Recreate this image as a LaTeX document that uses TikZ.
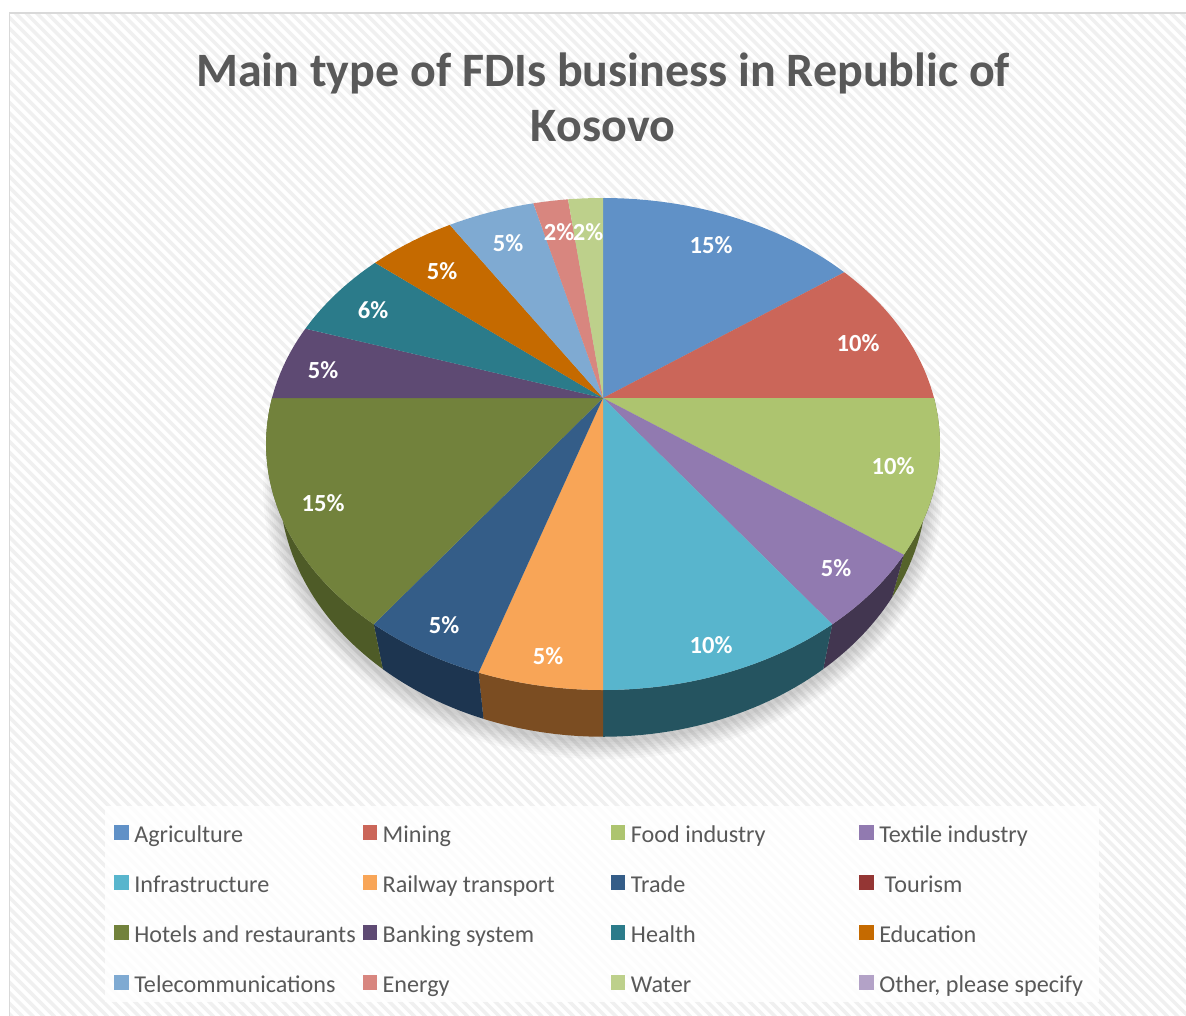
\documentclass[tikz,border=0pt]{standalone}
\usepackage{fontspec}
\setmainfont{Carlito}
\definecolor{framegray}{HTML}{D9D9D9}
\definecolor{stripegray}{HTML}{F0F0F0}
\definecolor{titlegray}{HTML}{595959}
\definecolor{labelgray}{HTML}{595959}
\definecolor{cAgri}{HTML}{6091C7}
\definecolor{cMine}{HTML}{CB6659}
\definecolor{cFood}{HTML}{ADC46F}
\definecolor{cText}{HTML}{917AB0}
\definecolor{cInfr}{HTML}{58B5CD}
\definecolor{cRail}{HTML}{F8A557}
\definecolor{cTrad}{HTML}{345D88}
\definecolor{cTour}{HTML}{943634}
\definecolor{cHote}{HTML}{72823C}
\definecolor{cBank}{HTML}{5E4A73}
\definecolor{cHeal}{HTML}{2B7B8A}
\definecolor{cEduc}{HTML}{C56A00}
\definecolor{cTele}{HTML}{7FAAD2}
\definecolor{cEner}{HTML}{D8867F}
\definecolor{cWate}{HTML}{BDD08B}
\definecolor{cOthe}{HTML}{B3A2C7}
\definecolor{sFood}{HTML}{55632A}
\definecolor{sText}{HTML}{423650}
\definecolor{sInfr}{HTML}{255460}
\definecolor{sRail}{HTML}{7B4D22}
\definecolor{sTrad}{HTML}{1D3550}
\definecolor{sHote}{HTML}{4E5B27}
\tikzset{
  stripe/.style={draw=stripegray, line width=0.07cm},
  title/.style={anchor=base, text=titlegray, inner sep=0pt, font=\bfseries\fontsize{27.3}{32}\selectfont},
  pct/.style={text=white, inner sep=0pt, font=\bfseries\fontsize{14}{16}\selectfont},
  legmark/.style={minimum width=0.29cm, minimum height=0.29cm, inner sep=0pt, anchor=west},
  legtext/.style={anchor=base west, inner sep=0pt, text=labelgray, font=\fontsize{13.75}{16}\selectfont},
  declare function={
    dd(\t)=1+0.187*cos(\t);
    px(\t)=603+331*sin(\t)/dd(\t);
    py(\t)=398-237.4*cos(\t)/dd(\t);
    bx(\t)=603+318*sin(\t)/dd(\t);
    by(\t)=398+(38-237.4*cos(\t))/dd(\t);
  }
}
\newcommand{\pieslice}[3]{\fill[#3] (apex) -- plot[variable=\t, domain=#1:#2, samples=40] ({px(\t)},{py(\t)}) -- cycle;}
\newcommand{\pieside}[3]{\fill[#3] plot[variable=\t, domain=#1:#2, samples=40] ({px(\t)},{py(\t)}) -- plot[variable=\t, domain=#2:#1, samples=40] ({bx(\t)},{by(\t)}) -- cycle;}
\begin{document}
\begin{tikzpicture}[x=0.02cm,y=-0.02cm]
\useasboundingbox (0,0) rectangle (1186,1015);
\fill[white] (0,0) rectangle (1186,1015);
\begin{scope}
  \clip (10,13) rectangle (1186,1015);
  \foreach \k in {0,...,220} \draw[stripe] ({\k*10.6-1100},0) -- ++(1100,1100);
\end{scope}
\draw[framegray, line width=0.04cm] (9.5,12.5) rectangle (1200,1030);

\node[title] (ttlA) at (603,86) {Main type of FDIs business in Republic of};
\node[title] (ttlB) at (603,141) {Kosovo};

\foreach \e in {2,4,...,16}
  \fill[black, opacity=0.025] plot[variable=\t, domain=0:360, samples=90] ({603+(318+\e)*sin(\t)/dd(\t)},{401+(38-(237.4+\e)*cos(\t))/dd(\t)}) -- cycle;

\coordinate (apex) at (603,398);
\pieside{90}{126}{sFood}
\pieside{126}{144}{sText}
\pieside{144}{180}{sInfr}
\pieside{180}{198}{sRail}
\pieside{198}{216}{sTrad}
\pieside{216}{270}{sHote}

\pieslice{0}{54}{cAgri}
\pieslice{54}{90}{cMine}
\pieslice{90}{126}{cFood}
\pieslice{126}{144}{cText}
\pieslice{144}{180}{cInfr}
\pieslice{180}{198}{cRail}
\pieslice{198}{216}{cTrad}
\pieslice{216}{270}{cHote}
\pieslice{270}{288}{cBank}
\pieslice{288}{309.6}{cHeal}
\pieslice{309.6}{327.6}{cEduc}
\pieslice{327.6}{345.6}{cTele}
\pieslice{345.6}{352.8}{cEner}
\pieslice{352.8}{360}{cWate}

\node[pct] (pAgri) at (711,245) {15\%};
\node[pct] (pMine) at (858,343) {10\%};
\node[pct] (pFood) at (893,466) {10\%};
\node[pct] (pText) at (836,568) {5\%};
\node[pct] (pInfr) at (711,645) {10\%};
\node[pct] (pRail) at (548,656) {5\%};
\node[pct] (pTrad) at (444,625) {5\%};
\node[pct] (pHote) at (323,503) {15\%};
\node[pct] (pBank) at (323,370) {5\%};
\node[pct] (pHeal) at (373,310) {6\%};
\node[pct] (pEduc) at (442,271) {5\%};
\node[pct] (pTele) at (508,243) {5\%};
\node[pct] (pEner) at (559,232) {2\%};
\node[pct] (pWate) at (588,232) {2\%};

\fill[white, opacity=0.85] (105,806) rectangle (1099,1002);

\node[legmark, fill=cAgri] (mAgri) at (114,832.5) {};
\node[legmark, fill=cMine] (mMine) at (362.3,832.5) {};
\node[legmark, fill=cFood] (mFood) at (610.6,832.5) {};
\node[legmark, fill=cText] (mText) at (858.9,832.5) {};
\node[legmark, fill=cInfr] (mInfr) at (114,882.5) {};
\node[legmark, fill=cRail] (mRail) at (362.3,882.5) {};
\node[legmark, fill=cTrad] (mTrad) at (610.6,882.5) {};
\node[legmark, fill=cTour] (mTour) at (858.9,882.5) {};
\node[legmark, fill=cHote] (mHote) at (114,932.5) {};
\node[legmark, fill=cBank] (mBank) at (362.3,932.5) {};
\node[legmark, fill=cHeal] (mHeal) at (610.6,932.5) {};
\node[legmark, fill=cEduc] (mEduc) at (858.9,932.5) {};
\node[legmark, fill=cTele] (mTele) at (114,982.5) {};
\node[legmark, fill=cEner] (mEner) at (362.3,982.5) {};
\node[legmark, fill=cWate] (mWate) at (610.6,982.5) {};
\node[legmark, fill=cOthe] (mOthe) at (858.9,982.5) {};

\node[legtext] (tAgri) at (134,842) {Agriculture};
\node[legtext] (tMine) at (382.3,842) {Mining};
\node[legtext] (tFood) at (630.6,842) {Food industry};
\node[legtext] (tText) at (878.9,842) {Textile industry};
\node[legtext] (tInfr) at (134,892) {Infrastructure};
\node[legtext] (tRail) at (382.3,892) {Railway transport};
\node[legtext] (tTrad) at (630.6,892) {Trade};
\node[legtext] (tTour) at (878.9,892) {\ Tourism};
\node[legtext] (tHote) at (134,942) {Hotels and restaurants};
\node[legtext] (tBank) at (382.3,942) {Banking system};
\node[legtext] (tHeal) at (630.6,942) {Health};
\node[legtext] (tEduc) at (878.9,942) {Education};
\node[legtext] (tTele) at (134,992) {Telecommunications};
\node[legtext] (tEner) at (382.3,992) {Energy};
\node[legtext] (tWate) at (630.6,992) {Water};
\node[legtext] (tOthe) at (878.9,992) {Other, please specify};
\end{tikzpicture}
\end{document}
